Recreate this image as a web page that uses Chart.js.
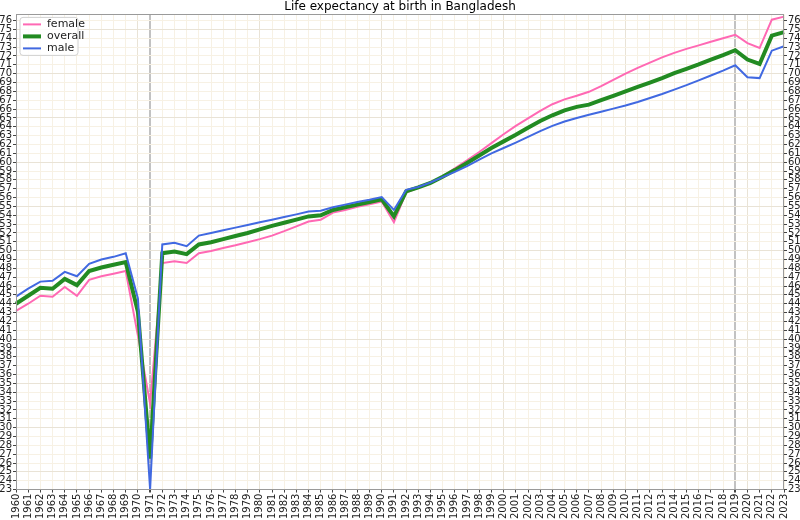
<!DOCTYPE html>
<html><head><meta charset="utf-8">
<script src="https://cdn.jsdelivr.net/npm/chart.js@4.4.1/dist/chart.umd.min.js"></script>
<style>html,body{margin:0;padding:0;background:#fff}#wrap{width:800px;height:520px;position:relative}</style>
</head><body><div id="wrap"><canvas id="c" width="800" height="520"></canvas></div>
<script>
const years = ['1960','1961','1962','1963','1964','1965','1966','1967','1968','1969',
  '1970','1971','1972','1973','1974','1975','1976','1977','1978','1979',
  '1980','1981','1982','1983','1984','1985','1986','1987','1988','1989',
  '1990','1991','1992','1993','1994','1995','1996','1997','1998','1999',
  '2000','2001','2002','2003','2004','2005','2006','2007','2008','2009',
  '2010','2011','2012','2013','2014','2015','2016','2017','2018','2019',
  '2020','2021','2022','2023'];
const female = [43.2,44.0,44.9,44.8,45.9,44.9,46.7,47.1,47.4,47.7,
  40.4,32.7,48.6,48.8,48.6,49.7,49.95,50.3,50.6,50.95,
  51.3,51.7,52.2,52.75,53.3,53.5,54.3,54.6,54.95,55.25,
  55.56,53.2,56.57,57.1,57.6,58.4,59.3,60.2,61.15,62.15,
  63.15,64.1,64.95,65.8,66.55,67.1,67.5,67.95,68.6,69.3,
  70.0,70.65,71.25,71.85,72.35,72.8,73.2,73.6,74.0,74.4,
  73.45,72.9,76.1,76.45];
const overall = [44.0,44.9,45.8,45.7,46.8,46.1,47.7,48.1,48.4,48.7,
  43.1,26.5,49.7,49.9,49.6,50.7,50.95,51.3,51.65,52.0,
  52.4,52.8,53.15,53.5,53.87,54.0,54.6,54.9,55.2,55.5,
  55.8,53.87,56.7,57.15,57.65,58.35,59.1,59.9,60.75,61.6,
  62.35,63.1,63.9,64.65,65.3,65.85,66.25,66.5,67.0,67.5,
  68.0,68.5,69.0,69.5,70.05,70.55,71.05,71.6,72.1,72.65,
  71.6,71.1,74.3,74.7];
const male = [44.8,45.7,46.5,46.6,47.6,47.1,48.5,49.0,49.3,49.7,
  44.6,23.0,50.7,50.9,50.5,51.7,52.0,52.3,52.6,52.9,
  53.2,53.5,53.8,54.1,54.43,54.5,54.9,55.2,55.5,55.75,
  56.05,54.6,56.87,57.2,57.7,58.3,58.9,59.55,60.3,61.0,
  61.6,62.2,62.85,63.5,64.1,64.6,65.0,65.35,65.7,66.05,
  66.4,66.8,67.25,67.7,68.2,68.7,69.25,69.8,70.35,70.95,
  69.6,69.5,72.6,73.1];
const seriesNames = ['female','overall','male'];
const seriesColors = ['#ff69b4','#228b22','#4169e1'];
const seriesWidths = [2,4,2];
const markerYears = ['1971','2019'];
const yMin = 23, yMax = 76.7;

const FONT = 'DejaVu Sans';
const minorGrid = '#f7f1e4', majorGrid = '#e9e3d6', markerColor = '#c2c2c2';

const frameAndLegend = {
  id: 'frameAndLegend',
  afterDatasetsDraw(chart) {
    const ca = chart.chartArea, ctx = chart.ctx;
    ctx.save();
    ctx.strokeStyle = '#9a9a9a';
    ctx.lineWidth = 1;
    ctx.strokeRect(Math.round(ca.left) + 0.5, Math.round(ca.top) + 0.5,
      Math.round(ca.right - ca.left) - 1, Math.round(ca.bottom - ca.top));
    const lx = ca.left + 4, ly = ca.top + 3, lw = 58, lh = 38, r = 3;
    ctx.beginPath();
    ctx.moveTo(lx + r, ly);
    ctx.lineTo(lx + lw - r, ly); ctx.quadraticCurveTo(lx + lw, ly, lx + lw, ly + r);
    ctx.lineTo(lx + lw, ly + lh - r); ctx.quadraticCurveTo(lx + lw, ly + lh, lx + lw - r, ly + lh);
    ctx.lineTo(lx + r, ly + lh); ctx.quadraticCurveTo(lx, ly + lh, lx, ly + lh - r);
    ctx.lineTo(lx, ly + r); ctx.quadraticCurveTo(lx, ly, lx + r, ly);
    ctx.closePath();
    ctx.fillStyle = 'rgba(255,255,255,0.85)';
    ctx.fill();
    ctx.strokeStyle = '#d0d0d0';
    ctx.stroke();
    ctx.font = '11px "' + FONT + '"';
    ctx.textBaseline = 'middle';
    ctx.textAlign = 'left';
    seriesNames.forEach((n, i) => {
      const yy = ly + 7 + i * 12;
      ctx.strokeStyle = seriesColors[i];
      ctx.lineWidth = seriesWidths[i];
      ctx.beginPath();
      ctx.moveTo(lx + 3, yy); ctx.lineTo(lx + 21, yy);
      ctx.stroke();
      ctx.fillStyle = '#222';
      ctx.fillText(n, lx + 27, yy);
    });
    ctx.restore();
  }
};

const seriesData = [female, overall, male];
new Chart(document.getElementById('c'), {
  type: 'line',
  data: {
    labels: years,
    datasets: seriesNames.map((n, i) => ({
      label: n,
      data: seriesData[i],
      borderColor: seriesColors[i],
      backgroundColor: seriesColors[i],
      borderWidth: seriesWidths[i],
      pointRadius: 0,
      tension: 0,
      fill: false,
      order: 2 - i
    }))
  },
  options: {
    responsive: false,
    devicePixelRatio: 1,
    animation: false,
    layout: { padding: { left: 0, right: 0, top: 0, bottom: 0 } },
    plugins: {
      legend: { display: false },
      tooltip: { enabled: false },
      title: {
        display: true,
        text: 'Life expectancy at birth in Bangladesh',
        color: '#000',
        font: { family: FONT, size: 12, weight: 'normal' },
        padding: { top: 0, bottom: 0 }
      }
    },
    scales: {
      x: {
        type: 'category',
        offset: false,
        border: { display: false },
        grid: {
          color: c => {
            const y = years[c.index];
            if (markerYears.includes(y)) return markerColor;
            return (+y % 10 === 0) ? majorGrid : minorGrid;
          },
          lineWidth: c => markerYears.includes(years[c.index]) ? 2 : 1,
          tickColor: '#444',
          tickLength: 3,
          drawTicks: true
        },
        ticks: {
          autoSkip: false, minRotation: 90, maxRotation: 90, padding: 1,
          color: '#222', font: { family: FONT, size: 10 }
        }
      },
      y: {
        position: 'left',
        min: yMin, max: yMax,
        border: { display: false },
        grid: {
          color: c => (c.tick && c.tick.value % 5 === 0) ? majorGrid : minorGrid,
          tickColor: '#444', tickLength: 3
        },
        ticks: {
          stepSize: 1, autoSkip: false, includeBounds: false, padding: 1,
          color: '#222', font: { family: FONT, size: 10 }
        },
        afterFit: s => { s.width = 16; }
      },
      y2: {
        position: 'right',
        display: true,
        min: yMin, max: yMax,
        border: { display: false },
        grid: { drawOnChartArea: false, tickColor: '#444', tickLength: 3 },
        ticks: {
          stepSize: 1, autoSkip: false, includeBounds: false, padding: 1,
          color: '#222', font: { family: FONT, size: 10 }
        },
        afterFit: s => { s.width = 16; }
      }
    }
  },
  plugins: [frameAndLegend]
});
</script>
</body></html>
